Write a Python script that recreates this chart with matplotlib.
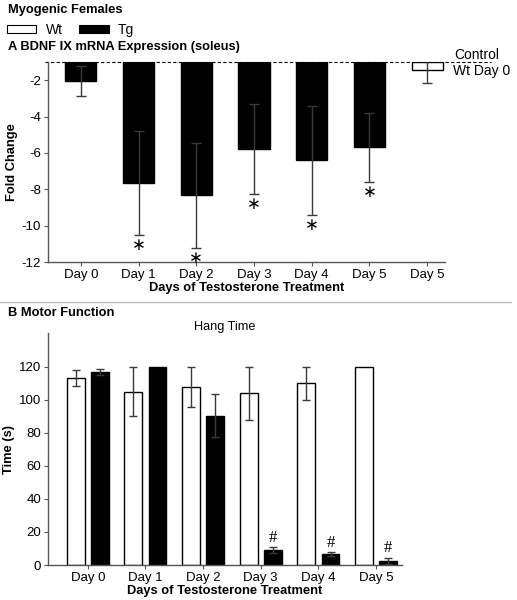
import matplotlib
matplotlib.use("Agg")
import matplotlib.pyplot as plt
import numpy as np
from matplotlib.patches import Patch
from matplotlib.lines import Line2D

plt.rcParams['font.family'] = ['Liberation Sans', 'DejaVu Sans']

# ---- Panel A data ----
a_labels = ["Day 0", "Day 1", "Day 2", "Day 3", "Day 4", "Day 5", "Day 5"]
a_groups = ["Tg", "Tg", "Tg", "Tg", "Tg", "Tg", "Wt"]
a_values = [-2.04, -7.65, -8.33, -5.78, -6.41, -5.70, -1.45]
a_errors = [0.83, 2.86, 2.88, 2.47, 3.01, 1.88, 0.73]
a_signif = [False, True, True, True, True, True, False]
a_baseline = -1.0

# ---- Panel B data ----
b_days = ["Day 0", "Day 1", "Day 2", "Day 3", "Day 4", "Day 5"]
b_wt = [113.5, 105.0, 108.0, 104.0, 110.0, 120.0]
b_wt_err = [4.8, 15.0, 12.0, 16.0, 10.0, 0.0]
b_tg = [117.0, 120.0, 90.5, 9.1, 6.5, 2.6]
b_tg_err = [1.8, 0.0, 13.0, 1.8, 1.2, 1.8]
b_signif = [False, False, False, True, True, True]

W, H = 517, 600
fig = plt.figure(figsize=(W / 100, H / 100), dpi=100)

def fx(px):
    return px / W

def fy(py):
    return 1 - py / H

tick_fs = 9.5
lab_fs = 9.3
err_col = '#3a3a3a'

# ---------------- Panel A ----------------
axA = fig.add_axes([fx(48), fy(262), fx(445 - 48), (262 - 62) / H])
xa = np.arange(len(a_values))
vals = np.array(a_values)
colors = ['black' if g == 'Tg' else 'white' for g in a_groups]
axA.bar(xa, vals - a_baseline, bottom=a_baseline, width=0.54,
        color=colors, edgecolor='black', linewidth=1.0, zorder=2)
axA.errorbar(xa, vals, yerr=a_errors, fmt='none', ecolor=err_col,
             elinewidth=1.0, capsize=3.5, capthick=1.0, zorder=3)
for x, v, e, s in zip(xa, vals, a_errors, a_signif):
    if s:
        axA.text(x, v - e - 0.55, '\u2217', ha='center', va='center',
                 fontsize=12, family=['DejaVu Sans'], zorder=4)
axA.set_xlim(-0.57, 6.31)
axA.set_ylim(-12, -1)
axA.set_yticks([-2, -4, -6, -8, -10, -12])
axA.set_yticklabels(['-2', '-4', '-6', '-8', '-10', '-12'])
axA.set_xticks(xa)
axA.set_xticklabels(a_labels)
for sp in ['top', 'right']:
    axA.spines[sp].set_visible(False)
for sp in ['left', 'bottom']:
    axA.spines[sp].set_color('#555555')
    axA.spines[sp].set_linewidth(1.0)
axA.tick_params(axis='both', labelsize=tick_fs, length=3, width=0.8,
                color='#555555', pad=2)
axA.set_ylabel('Fold Change', fontsize=lab_fs, fontweight='bold', labelpad=2.5)
axA.set_xlabel('Days of Testosterone Treatment', fontsize=lab_fs,
               fontweight='bold', labelpad=1)
# dashed control line
axA.plot([-0.62, 7.1], [a_baseline, a_baseline], ls=(0, (3, 2)), color='black',
         lw=0.8, clip_on=False, zorder=1)

# ---------------- Panel B ----------------
axB = fig.add_axes([fx(48), fy(565), fx(402 - 48), (565 - 333) / H])
xb = np.arange(len(b_days))
off = 0.21
bw = 0.31
axB.bar(xb - off, b_wt, width=bw, color='white', edgecolor='black',
        linewidth=1.0, zorder=2)
axB.bar(xb + off, b_tg, width=bw, color='black', edgecolor='black',
        linewidth=1.0, zorder=2)
wt_mask = np.array(b_wt_err) > 0
tg_mask = np.array(b_tg_err) > 0
axB.errorbar((xb - off)[wt_mask], np.array(b_wt)[wt_mask],
             yerr=np.array(b_wt_err)[wt_mask], fmt='none', ecolor=err_col,
             elinewidth=1.0, capsize=2.8, capthick=1.0, zorder=3)
axB.errorbar((xb + off)[tg_mask], np.array(b_tg)[tg_mask],
             yerr=np.array(b_tg_err)[tg_mask], fmt='none', ecolor=err_col,
             elinewidth=1.0, capsize=2.8, capthick=1.0, zorder=3)
for x, v, e, s in zip(xb + off, b_tg, b_tg_err, b_signif):
    if s:
        axB.text(x, v + e + 5.7, '#', ha='center', va='center',
                 fontsize=12, family=['Liberation Serif'], zorder=4)
axB.set_xlim(-0.69, 5.45)
axB.set_ylim(0, 140.6)
axB.set_yticks([0, 20, 40, 60, 80, 100, 120])
axB.set_xticks(xb)
axB.set_xticklabels(b_days)
for sp in ['top', 'right']:
    axB.spines[sp].set_visible(False)
for sp in ['left', 'bottom']:
    axB.spines[sp].set_color('#555555')
    axB.spines[sp].set_linewidth(1.0)
axB.tick_params(axis='both', labelsize=tick_fs, length=3, width=0.8,
                color='#555555', pad=2)
axB.set_ylabel('Time (s)', fontsize=lab_fs, fontweight='bold', labelpad=2.5)
axB.set_xlabel('Days of Testosterone Treatment', fontsize=lab_fs,
               fontweight='bold', labelpad=1)
axB.set_title('Hang Time', fontsize=9.2, pad=2)

# ---------------- Figure texts ----------------
fig.text(fx(8), fy(10), 'Myogenic Females', fontsize=9.3, fontweight='bold',
         ha='left', va='center')
handles = [Patch(facecolor='white', edgecolor='black', linewidth=0.8, label='Wt'),
           Patch(facecolor='black', edgecolor='black', linewidth=0.8, label='Tg')]
fig.legend(handles=handles, loc='center left', bbox_to_anchor=(fx(4), fy(30)),
           ncol=2, frameon=False, fontsize=10, handlelength=2.1,
           handleheight=0.55, handletextpad=0.7, columnspacing=1.2,
           borderpad=0.2, borderaxespad=0)
fig.text(fx(8), fy(47), 'A BDNF IX mRNA Expression (soleus)', fontsize=9.3,
         fontweight='bold', ha='left', va='center')
fig.text(fx(454), fy(55), 'Control', fontsize=10, ha='left', va='center')
fig.text(fx(453), fy(71), 'Wt Day 0', fontsize=10, ha='left', va='center')
fig.add_artist(Line2D([0, fx(511)], [fy(302), fy(302)], color='#bbbbbb', lw=1.0))
fig.text(fx(8), fy(313), 'B Motor Function', fontsize=9.3, fontweight='bold',
         ha='left', va='center')

fig.savefig('out.png', dpi=100, facecolor='white')
